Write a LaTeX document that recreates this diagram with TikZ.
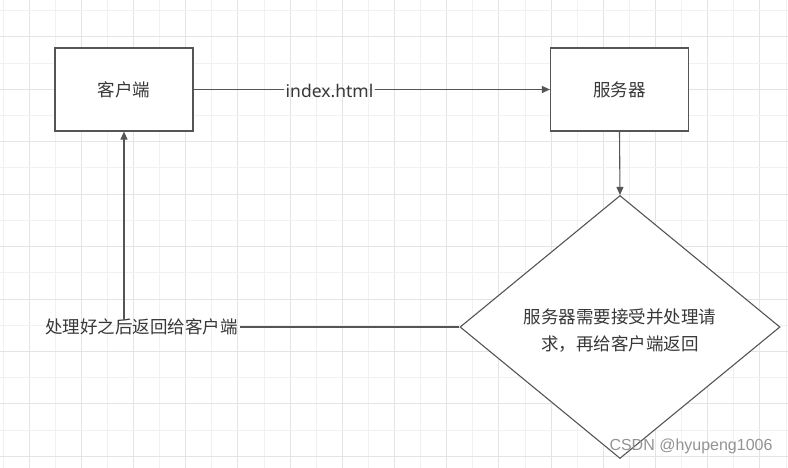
\documentclass[tikz,border=0pt]{standalone}
\usepackage{fontspec}
\setmainfont{Noto Sans CJK SC}
\newfontfamily\latinfont{Noto Sans}
\newfontfamily\wmfont{Liberation Sans}
\usetikzlibrary{arrows.meta,shapes.geometric}
\definecolor{gridmajor}{HTML}{E4E4E4}
\definecolor{gridminor}{HTML}{F1F1F1}
\definecolor{edgecol}{HTML}{555555}
\definecolor{txtcol}{HTML}{383838}
\tikzset{
  boxnode/.style={draw=edgecol, line width=1.2pt, fill=white, minimum width=138pt, minimum height=83pt, inner sep=0pt, text=txtcol, font=\fontsize{17.5}{22}\selectfont},
  decision/.style={diamond, draw=edgecol, line width=1.1pt, fill=white, minimum width=320pt, minimum height=263pt, inner sep=0pt},
  lbl/.style={text=txtcol, inner sep=2pt, font=\fontsize{17.5}{27}\selectfont},
  conn/.style={draw=edgecol, line width=1.1pt},
  arr/.style={conn, -{Triangle[length=8pt,width=7pt]}}
}
\begin{document}
\begin{tikzpicture}[x=1pt,y=-1pt]
\useasboundingbox (0,0) rectangle (788,468);
\fill[white] (0,0) rectangle (788,468);
% grid
\foreach \i in {0,...,30} {
  \pgfmathparse{int(mod(\i,2))}
  \ifnum\pgfmathresult=1
    \draw[gridmajor, line width=1pt] ({3+26.1*\i},0) -- ({3+26.1*\i},468);
  \else
    \draw[gridminor, line width=1pt] ({3+26.1*\i},0) -- ({3+26.1*\i},468);
  \fi
}
\foreach \j in {0,...,17} {
  \pgfmathparse{int(mod(\j,2))}
  \ifnum\pgfmathresult=1
    \draw[gridmajor, line width=1pt] (0,{10.8+26.2*\j}) -- (788,{10.8+26.2*\j});
  \else
    \draw[gridminor, line width=1pt] (0,{10.8+26.2*\j}) -- (788,{10.8+26.2*\j});
  \fi
}
% nodes
\node[boxnode] (client) at (124,89.5) {客户端};
\node[boxnode] (server) at (619.5,89.5) {服务器};
\node[decision] (dec) at (620,327) {};
\node[lbl, align=center] (dectext) at (620,331) {服务器需要接受并处理请\\求，再给客户端返回};
\node[lbl, font=\latinfont\fontsize{17.5}{22}\selectfont, inner sep=1.5pt] (idx) at (329.5,91) {index.html};
\node[lbl] (back) at (141.5,327) {处理好之后返回给客户端};
\node[text=gray!85, font=\wmfont\fontsize{16}{20}\selectfont, inner sep=0pt] (wm) at (691,446) {CSDN @hyupeng1006};
% connectors
\draw[conn] (client.east) -- (client.east -| idx.west);
\draw[arr] (server.west -| idx.east) -- (server.west);
\draw[arr] (server.south) -- (dec.north);
\draw[conn] (dec.west) -- (back.east |- dec.west);
\draw[arr] ([yshift=-3pt]back.north -| client.south) -- (client.south);
\end{tikzpicture}
\end{document}
